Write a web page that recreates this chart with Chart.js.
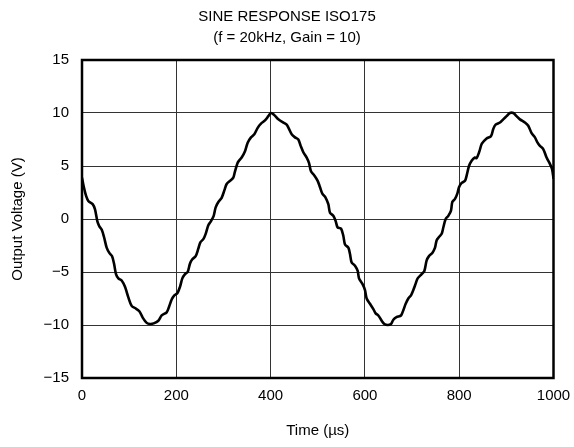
<!DOCTYPE html>
<html>
<head>
<meta charset="utf-8">
<title>Sine Response ISO175</title>
<script src="https://cdn.jsdelivr.net/npm/chart.js@4.4.1/dist/chart.umd.min.js"></script>
<style>
  html, body { margin: 0; padding: 0; background: #fff; }
  canvas { display: block; }
</style>
</head>
<body>
<canvas id="sineChart" width="574" height="447"></canvas>
<script>
// values
const timeUs = [
    0, 4, 8.5, 13.4, 22.6, 27.6, 32.5, 36.8, 41.7, 46.7, 52.3, 58, 63.6, 67.9, 72.1, 77.1, 84.1, 91.2, 98.3,
    105.3, 112.4, 121.6, 128.7, 137.2, 144.2, 152, 161.9, 169, 179.6, 184.5, 190.2, 195.8, 202.2, 207.8,
    212.8, 218.5, 224.1, 229.1, 234, 241.1, 246.7, 251, 257.3, 262.3, 267.9, 273.6, 279.3, 283.5, 289.2,
    296.2, 301.9, 306.8, 313.9, 320.9, 324.5, 330.1, 333, 338.6, 345.7, 351.4, 358.4, 365.5, 372.6, 379.6,
    388.1, 395.2, 400.8, 407.9, 416.4, 427, 434.1, 439, 444.7, 451.8, 458.8, 463.8, 469.4, 476.5, 481.4,
    485.7, 492.7, 499.8, 504.8, 509.7, 516.8, 522.4, 526, 533, 538, 542.2, 549.3, 554.3, 557.8, 564.9,
    568.4, 571.9, 579, 584.7, 587.5, 594.5, 600.2, 603.7, 610.8, 617.9, 622.8, 628.5, 635.6, 641.2, 648.3,
    655.3, 660.3, 667, 676.6, 681.5, 686.5, 692.1, 697.8, 702.7, 707.7, 711.9, 720.4, 726.1, 731, 735.9,
    743, 748.7, 752.2, 757.2, 762.8, 766.3, 771.3, 776.9, 782.6, 785.4, 791.1, 796, 799.6, 805.2, 812.3,
    815.8, 820.8, 826.4, 833.5, 837, 843, 848, 858.1, 867.3, 872.3, 877.2, 886.4, 893.4, 900.5, 907.6,
    914.7, 921.7, 928.8, 939.4, 946.5, 953.5, 960.6, 966.2, 971.2, 978.2, 985.3, 992.4, 997, 1000
];
const outputV = [
    3.9, 3.0, 2.2, 1.7, 1.4, 0.9, -0.2, -0.7, -1.0, -1.7, -2.7, -3.2, -3.5, -4.2, -5.2, -5.6, -5.8, -6.4, -7.4,
    -8.2, -8.4, -8.7, -9.3, -9.8, -9.9, -9.85, -9.6, -9.1, -8.8, -8.3, -7.6, -7.2, -7.0, -6.4,
    -5.6, -5.2, -5.0, -4.2, -3.8, -3.5, -2.8, -2.2, -1.9, -1.4, -0.6, -0.2, 0.3, 1.1, 1.6,
    2.0, 2.7, 3.3, 3.6, 3.9, 4.5, 5.3, 5.5, 5.8, 6.4, 7.2, 7.7, 8.0, 8.6, 9.0,
    9.3, 9.7, 10.0, 9.8, 9.4, 9.1, 8.9, 8.5, 8.0, 7.7, 7.5, 6.9, 6.3, 5.8, 5.3,
    4.5, 4.1, 3.6, 3.0, 2.4, 2.0, 1.4, 0.6, 0.3, -0.2, -0.8, -0.9, -1.6, -2.4, -2.7,
    -3.3, -4.1, -4.4, -4.9, -5.6, -6.1, -6.7, -7.5, -8.0, -8.5, -8.9, -9.1, -9.6, -9.9, -10.0,
    -9.9, -9.5, -9.25, -9.1, -8.6, -8.0, -7.5, -7.2, -6.7, -6.1, -5.6, -5.2, -4.9, -3.9, -3.5,
    -3.2, -2.7, -2.0, -1.7, -1.4, -0.8, 0.0, 0.3, 0.8, 1.6, 1.9, 2.4, 3.0, 3.4, 3.6,
    4.1, 5.0, 5.5, 5.8, 5.75, 6.4, 7.1, 7.6, 7.8, 8.5, 8.9, 9.1, 9.4, 9.7, 10.0,
    10.0, 9.7, 9.4, 9.1, 8.8, 8.1, 7.7, 7.2, 6.9, 6.6, 5.8, 5.2, 4.7, 3.8
];
const xTicks = [0, 200, 400, 600, 800, 1000];
const yTicks = [-15, -10, -5, 0, 5, 10, 15];
const chartTitle = ['SINE RESPONSE ISO175', '(f = 20kHz, Gain = 10)'];

const points = timeUs.map((t, i) => ({ x: t, y: outputV[i] }));
const fontFamily = '"Liberation Sans", Arial, Helvetica, sans-serif';

// heavy box round the plot area
const frameBox = {
    id: 'frameBox',
    afterDraw(chart) {
        const { ctx, chartArea: a } = chart;
        ctx.save();
        ctx.strokeStyle = '#000';
        ctx.lineWidth = 2.5;
        ctx.strokeRect(a.left, a.top, a.right - a.left, a.bottom - a.top);
        ctx.restore();
    }
};

const ctx = document.getElementById('sineChart').getContext('2d');
const chart = new Chart(ctx, {
    type: 'line',
    data: {
        datasets: [{
            data: points,
            borderColor: '#000',
            borderWidth: 2.6,
            pointRadius: 0,
            tension: 0.3,
            fill: false
        }]
    },
    options: {
        responsive: false,
        animation: false,
        layout: { padding: 0 },
        plugins: {
            legend: { display: false },
            tooltip: { enabled: false },
            title: {
                display: true,
                text: chartTitle,
                color: '#000',
                font: { family: fontFamily, size: 15, weight: 'normal', lineHeight: 1.4 },
                padding: { top: 6, bottom: 12 }
            }
        },
        scales: {
            x: {
                type: 'linear',
                min: 0,
                max: 1000,
                afterBuildTicks: s => { s.ticks = xTicks.map(v => ({ value: v })); },
                afterFit: s => {
                    s.height = 69;
                    s.paddingLeft = 0;
                    s.paddingRight = 20.5;
                },
                grid: { color: '#333', lineWidth: 1, drawTicks: false },
                border: { display: false },
                ticks: {
                    color: '#000',
                    padding: 9,
                    maxRotation: 0,
                    font: { family: fontFamily, size: 15 },
                    callback: v => String(v)
                },
                title: {
                    display: true,
                    text: 'Time (µs)',
                    color: '#000',
                    font: { family: fontFamily, size: 15 },
                    padding: { top: 0, bottom: 7 }
                }
            },
            y: {
                min: -15,
                max: 15,
                afterBuildTicks: s => { s.ticks = yTicks.map(v => ({ value: v })); },
                afterFit: s => { s.width = 82; },
                grid: { color: '#333', lineWidth: 1, drawTicks: false },
                border: { display: false },
                ticks: {
                    color: '#000',
                    padding: 13,
                    font: { family: fontFamily, size: 15 },
                    callback: v => String(v).replace('-', '\u2212')
                },
                title: {
                    display: true,
                    text: 'Output Voltage (V)',
                    color: '#000',
                    font: { family: fontFamily, size: 15 },
                    padding: { top: 8.5, bottom: 0 }
                }
            }
        }
    },
    plugins: [frameBox]
});
</script>
</body>
</html>
